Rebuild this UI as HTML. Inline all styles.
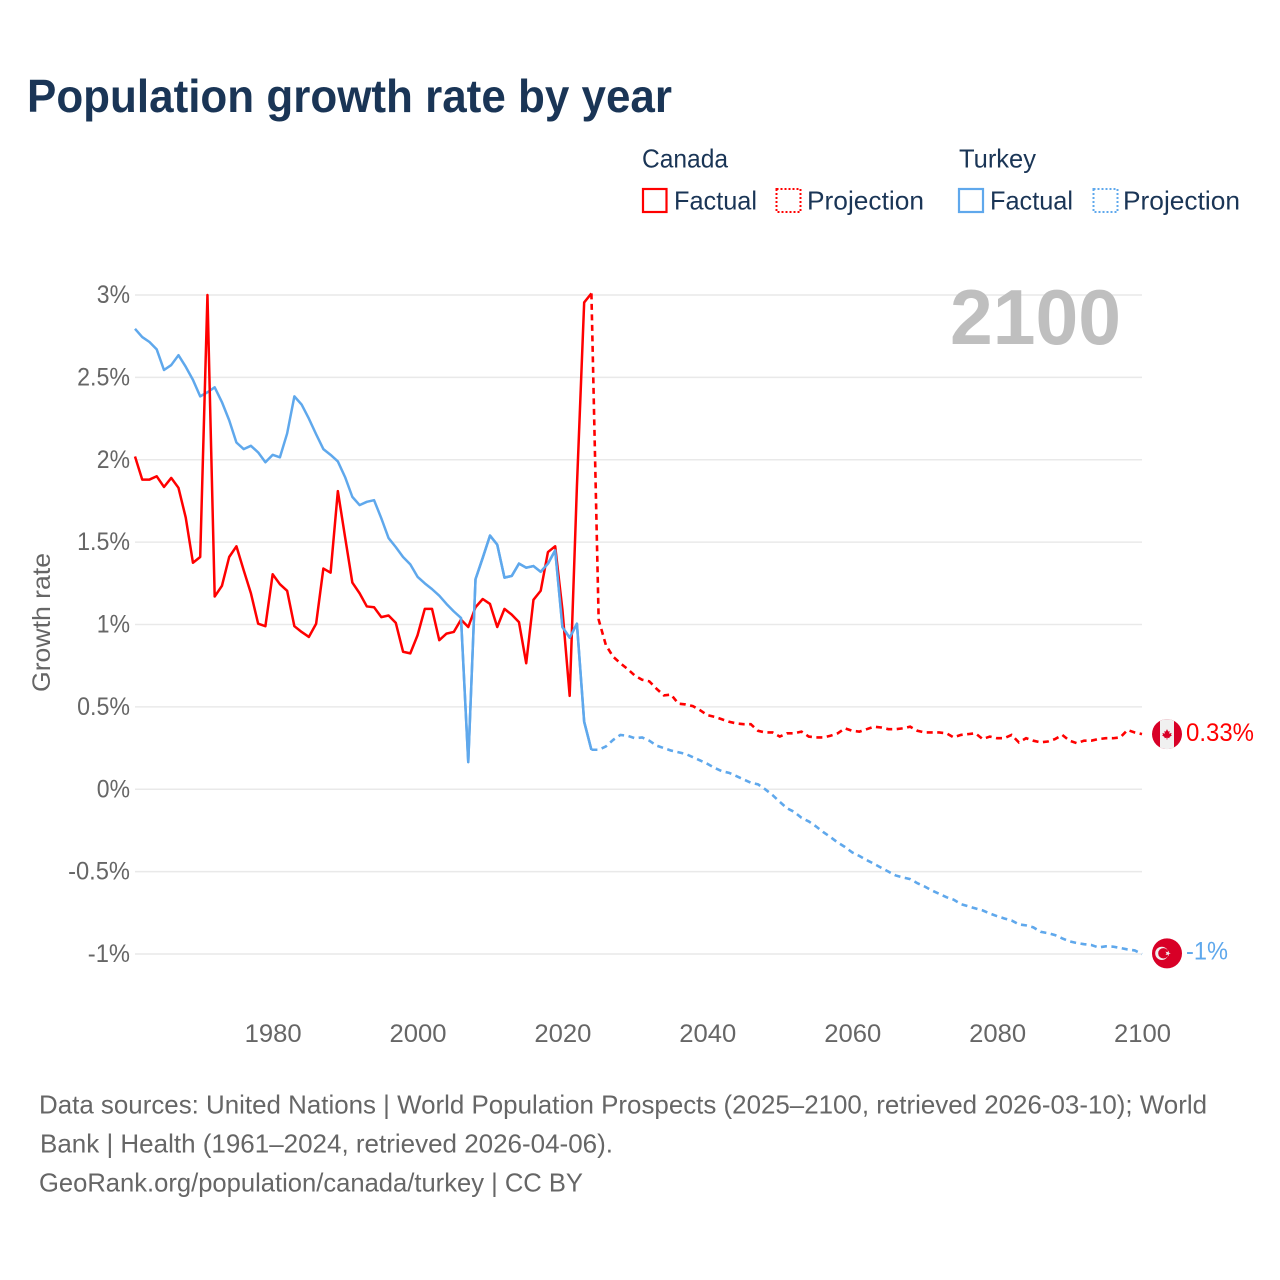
<!DOCTYPE html>
<html lang="en">
<head>
<meta charset="utf-8">
<title>Population growth rate by year</title>
<style>
html,body{margin:0;padding:0;background:#fff}
svg{display:block;font-family:"Liberation Sans",sans-serif}
</style>
</head>
<body>
<svg id="chart" xmlns="http://www.w3.org/2000/svg" width="1280" height="1280" viewBox="0 0 1280 1280">
  <rect width="1280" height="1280" fill="#ffffff"/>
  <text x="27" y="112" font-size="46" font-weight="700" fill="#1a3556" textLength="645" lengthAdjust="spacingAndGlyphs">Population growth rate by year</text>

  <g font-size="26" fill="#1a3556">
    <text x="642" y="167.5" textLength="86" lengthAdjust="spacingAndGlyphs">Canada</text>
    <text x="959" y="167.5" textLength="77" lengthAdjust="spacingAndGlyphs">Turkey</text>
    <g>
      <rect x="643" y="189" width="23.5" height="23" fill="none" stroke="#ff0000" stroke-width="2.2"/>
      <text x="674" y="209.5" textLength="83" lengthAdjust="spacingAndGlyphs">Factual</text>
    </g>
    <g>
      <rect x="776.5" y="189" width="24" height="23" fill="none" stroke="#ff0000" stroke-width="2" stroke-dasharray="2 2"/>
      <text x="807" y="209.5" textLength="117" lengthAdjust="spacingAndGlyphs">Projection</text>
    </g>
    <g>
      <rect x="959" y="189" width="24" height="23" fill="none" stroke="#5fa8ec" stroke-width="2.2"/>
      <text x="990" y="209.5" textLength="83" lengthAdjust="spacingAndGlyphs">Factual</text>
    </g>
    <g>
      <rect x="1093.5" y="189" width="24" height="23" fill="none" stroke="#5fa8ec" stroke-width="2" stroke-dasharray="2 2"/>
      <text x="1123" y="209.5" textLength="117" lengthAdjust="spacingAndGlyphs">Projection</text>
    </g>
  </g>

  <g id="grid"></g>
  <g id="yticks"></g>
  <g id="xticks"></g>
  <text x="1121" y="344" text-anchor="end" font-size="78" font-weight="700" fill="#bfbfbf" textLength="171" lengthAdjust="spacingAndGlyphs">2100</text>
  <text transform="translate(50 622.5) rotate(-90)" text-anchor="middle" font-size="25" fill="#666666" textLength="139" lengthAdjust="spacingAndGlyphs">Growth rate</text>
  <g id="series"></g>
  <g id="endmarks"></g>

  <g font-size="26" fill="#666666">
    <text x="39" y="1113.5" textLength="1168" lengthAdjust="spacingAndGlyphs">Data sources: United Nations | World Population Prospects (2025–2100, retrieved 2026-03-10); World</text>
    <text x="40" y="1152.5" textLength="573" lengthAdjust="spacingAndGlyphs">Bank | Health (1961–2024, retrieved 2026-04-06).</text>
    <text x="39" y="1191.5" textLength="544" lengthAdjust="spacingAndGlyphs">GeoRank.org/population/canada/turkey | CC BY</text>
  </g>
</svg>
<script>
const yTicks = [3, 2.5, 2, 1.5, 1, 0.5, 0, -0.5, -1];
const xTicks = [1980, 2000, 2020, 2040, 2060, 2080, 2100];
const factualStartYear = 1961;
const projectionStartYear = 2024;
const canadaFactual = [2.02,1.88,1.88,1.90,1.835,1.89,1.83,1.65,1.375,1.41,3.0,1.17,1.235,1.41,1.475,1.33,1.19,1.005,0.99,1.305,1.245,1.205,0.99,0.955,0.925,1.005,1.34,1.315,1.81,1.53,1.255,1.19,1.11,1.105,1.045,1.055,1.01,0.835,0.825,0.935,1.095,1.095,0.905,0.945,0.955,1.03,0.985,1.105,1.155,1.125,0.985,1.095,1.06,1.015,0.765,1.15,1.205,1.44,1.475,1.09,0.567,1.84,2.955,3.01];
const canadaProjection = [3.01,1.03,0.875,0.805,0.765,0.73,0.69,0.665,0.655,0.61,0.57,0.575,0.52,0.515,0.505,0.48,0.45,0.44,0.425,0.41,0.40,0.395,0.395,0.355,0.345,0.345,0.32,0.34,0.34,0.35,0.32,0.315,0.315,0.325,0.34,0.37,0.355,0.35,0.365,0.38,0.375,0.365,0.365,0.37,0.38,0.355,0.345,0.345,0.345,0.34,0.315,0.33,0.335,0.34,0.305,0.32,0.31,0.31,0.33,0.285,0.31,0.295,0.285,0.29,0.305,0.33,0.295,0.28,0.295,0.295,0.305,0.31,0.31,0.315,0.36,0.345,0.335];
const turkeyFactual = [2.795,2.745,2.715,2.67,2.545,2.575,2.635,2.565,2.485,2.385,2.41,2.44,2.35,2.24,2.105,2.065,2.085,2.045,1.985,2.03,2.015,2.16,2.385,2.335,2.25,2.155,2.065,2.03,1.99,1.895,1.775,1.725,1.745,1.755,1.645,1.525,1.47,1.41,1.365,1.29,1.25,1.215,1.175,1.125,1.08,1.04,0.165,1.275,1.405,1.54,1.485,1.285,1.295,1.37,1.345,1.355,1.32,1.37,1.45,0.985,0.92,1.005,0.41,0.24];
const turkeyProjection = [0.24,0.24,0.26,0.30,0.33,0.325,0.31,0.315,0.295,0.265,0.25,0.235,0.225,0.215,0.195,0.175,0.155,0.13,0.11,0.10,0.08,0.06,0.04,0.03,0,-0.035,-0.076,-0.115,-0.137,-0.173,-0.195,-0.225,-0.26,-0.29,-0.323,-0.35,-0.383,-0.405,-0.43,-0.452,-0.476,-0.50,-0.523,-0.535,-0.545,-0.57,-0.59,-0.614,-0.634,-0.655,-0.67,-0.697,-0.71,-0.723,-0.735,-0.754,-0.77,-0.784,-0.796,-0.82,-0.826,-0.838,-0.865,-0.873,-0.885,-0.905,-0.923,-0.933,-0.94,-0.945,-0.96,-0.953,-0.955,-0.963,-0.972,-0.978,-1.0];
const endLabels = ['0.33%', '-1%'];

const NS = 'http://www.w3.org/2000/svg';
const RED = '#ff0000';
const BLUE = '#5fa8ec';
const LEFT = 135;
const RIGHT = 1142;
function xScale(year) { return LEFT + (year - 1961) * (RIGHT - LEFT) / 139; }
function yScale(value) { return 789.3 - value * 164.75; }
function yLabel(value) { return value + '%'; }
function labelWidth(text) {
  let w = 0;
  for (const c of text) {
    if (c === '%') w += 19;
    else if (c === '.') w += 5.5;
    else if (c === '-') w += 9;
    else w += 14.2;
  }
  return w;
}
function make(tag, parent, attrs) {
  const el = document.createElementNS(NS, tag);
  for (const k in attrs) el.setAttribute(k, attrs[k]);
  parent.appendChild(el);
  return el;
}
function buildPath(startYear, values) {
  return values.map(function (v, i) {
    return (i ? 'L' : 'M') + xScale(startYear + i).toFixed(2) + ' ' + yScale(v).toFixed(2);
  }).join(' ');
}

const grid = document.getElementById('grid');
const yG = document.getElementById('yticks');
const xG = document.getElementById('xticks');
const series = document.getElementById('series');
const endmarks = document.getElementById('endmarks');

yTicks.forEach(function (t) {
  const line = make('line', grid, { x1: LEFT, x2: RIGHT, y1: yScale(t), y2: yScale(t), stroke: '#e9e9e9', 'stroke-width': 1.5 });
  
  
  const s = yLabel(t);
  const label = make('text', yG, { x: 130, y: yScale(t) + 8, 'text-anchor': 'end', 'font-size': 25, fill: '#666666', textLength: labelWidth(s), lengthAdjust: 'spacingAndGlyphs' });
  label.textContent = s;
  
  
});

xTicks.forEach(function (t) {
  const label = make('text', xG, { x: xScale(t) + 0.5, y: 1042, 'text-anchor': 'middle', 'font-size': 25, fill: '#666666', textLength: 57, lengthAdjust: 'spacingAndGlyphs' });
  label.textContent = String(t);
  
  
});

const turkeyFactualLine = make('path', series, { d: buildPath(factualStartYear, turkeyFactual), fill: 'none', stroke: BLUE, 'stroke-width': 2.5, 'stroke-linejoin': 'round' });


const canadaFactualLine = make('path', series, { d: buildPath(factualStartYear, canadaFactual), fill: 'none', stroke: RED, 'stroke-width': 2.5, 'stroke-linejoin': 'round' });


const turkeyFactualTop = make('path', series, { d: buildPath(factualStartYear + 45, turkeyFactual.slice(45)), fill: 'none', stroke: BLUE, 'stroke-width': 2.5, 'stroke-linejoin': 'round' });


const canadaProjectionLine = make('path', series, { d: buildPath(projectionStartYear, canadaProjection), fill: 'none', stroke: RED, 'stroke-width': 2.6, 'stroke-dasharray': '6 4.5' });


const turkeyProjectionLine = make('path', series, { d: buildPath(projectionStartYear, turkeyProjection), fill: 'none', stroke: BLUE, 'stroke-width': 2.6, 'stroke-dasharray': '6 4.5' });



const endYear = projectionStartYear + canadaProjection.length - 1;
const flagX = xScale(endYear) + 25;
const canadaY = yScale(canadaProjection[canadaProjection.length - 1]);
const turkeyY = yScale(turkeyProjection[turkeyProjection.length - 1]);

const defs = make('defs', endmarks, {});
const clip = make('clipPath', defs, { id: 'canada-clip' });
make('circle', clip, { cx: flagX, cy: canadaY, r: 15 });

const canadaFlag = make('g', endmarks, { 'clip-path': 'url(#canada-clip)' });


make('rect', canadaFlag, { x: flagX - 15, y: canadaY - 15, width: 30, height: 30, fill: '#d80027' });
make('rect', canadaFlag, { x: flagX - 7, y: canadaY - 15, width: 14, height: 30, fill: '#f0f0f0' });
const leaf = make('g', canadaFlag, { transform: 'translate(' + flagX + ' ' + canadaY + ')' });
make('polygon', leaf, { points: '0,-5 1.3,-2.5 2.6,-3.2 2.2,-0.4 4.6,-1.2 4,0.6 5,1.2 2.4,3 2.6,4 0.4,3.7 0.4,5.4 -0.4,5.4 -0.4,3.7 -2.6,4 -2.4,3 -5,1.2 -4,0.6 -4.6,-1.2 -2.2,-0.4 -2.6,-3.2 -1.3,-2.5', fill: '#d80027' });

const turkeyFlag = make('g', endmarks, {});


make('circle', turkeyFlag, { cx: flagX, cy: turkeyY - 0.7, r: 15, fill: '#d80027' });
make('circle', turkeyFlag, { cx: flagX - 5.2, cy: turkeyY - 0.7, r: 6.6, fill: '#f0f0f0' });
make('circle', turkeyFlag, { cx: flagX - 3.6, cy: turkeyY - 0.7, r: 5.2, fill: '#d80027' });
make('polygon', turkeyFlag, {
  points: [0,1,2,3,4,5,6,7,8,9].map(function (i) {
    const r = i % 2 ? 1.2 : 2.9;
    const a = i * Math.PI / 5;
    return (flagX + 0.8 + r * Math.cos(a)).toFixed(2) + ',' + (turkeyY - 0.7 + r * Math.sin(a)).toFixed(2);
  }).join(' '),
  fill: '#f0f0f0'
});

const canadaEnd = make('text', endmarks, { x: flagX + 19, y: canadaY + 7, 'font-size': 25, fill: RED, textLength: 68, lengthAdjust: 'spacingAndGlyphs' });
canadaEnd.textContent = endLabels[0];


const turkeyEnd = make('text', endmarks, { x: flagX + 19, y: turkeyY + 5.5, 'font-size': 25, fill: BLUE, textLength: 42, lengthAdjust: 'spacingAndGlyphs' });
turkeyEnd.textContent = endLabels[1];


</script>
</body>
</html>
